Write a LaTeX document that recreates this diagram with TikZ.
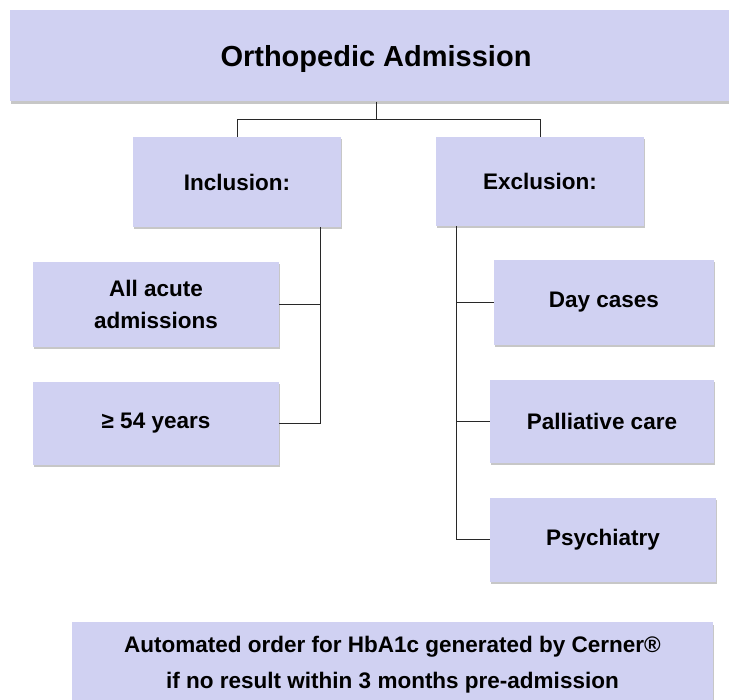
\documentclass[tikz,border=0pt]{standalone}
\usepackage{fontspec}
\setmainfont{Liberation Sans}
\usetikzlibrary{shadows}
\definecolor{boxfill}{RGB}{208,209,242}
\definecolor{linecol}{RGB}{40,40,40}
\begin{document}
\begin{tikzpicture}[x=1pt,y=-1pt,
  box/.style={rectangle, fill=boxfill, inner sep=0pt, align=center,
    font=\fontsize{22.5}{32}\selectfont\bfseries,
    drop shadow={shadow xshift=1pt, shadow yshift=-2.5pt, fill=black!40, opacity=0.55}},
  conn/.style={draw=linecol, line width=1pt}]
\useasboundingbox (0,0) rectangle (729,700);
\fill[white] (0,0) rectangle (729,700);
\node[box, minimum width=732pt, minimum height=91pt, text depth=0pt, font=\fontsize{29}{34}\selectfont\bfseries] (title) at (376,56) {Orthopedic Admission};
\node[box, minimum width=208pt, minimum height=90pt] (incl) at (237,182) {Inclusion:};
\node[box, minimum width=208pt, minimum height=89pt] (excl) at (540,181.5) {Exclusion:};
\node[box, minimum width=246pt, minimum height=85pt] (acute) at (156,304.5) {All acute\\admissions};
\node[box, minimum width=246pt, minimum height=83pt] (age) at (156,423.5) {≥ 54 years};
\node[box, minimum width=220pt, minimum height=85pt] (day) at (604,302.5) {Day cases};
\node[box, minimum width=224pt, minimum height=83pt] (pall) at (602,421.5) {Palliative care};
\node[box, minimum width=226pt, minimum height=84pt] (psy) at (603,540) {Psychiatry};
\node[box, minimum width=641pt, minimum height=84pt, font=\fontsize{22.5}{36}\selectfont\bfseries] (note) at (392.5,664.5) {Automated order for HbA1c generated by Cerner®\\if no result within 3 months pre-admission};
\coordinate (junc) at (376,119.5);
\draw[conn] (title.south) -- (junc);
\draw[conn] (incl.north) |- (junc) -| (excl.north);
\draw[conn] ([xshift=83pt]incl.south) |- (age.east);
\draw[conn] ([xshift=83pt]incl.south |- acute.east) -- (acute.east);
\draw[conn] ([xshift=-83.5pt]excl.south) |- (psy.west);
\draw[conn] ([xshift=-83.5pt]excl.south |- day.west) -- (day.west);
\draw[conn] ([xshift=-83.5pt]excl.south |- pall.west) -- (pall.west);
\end{tikzpicture}
\end{document}
